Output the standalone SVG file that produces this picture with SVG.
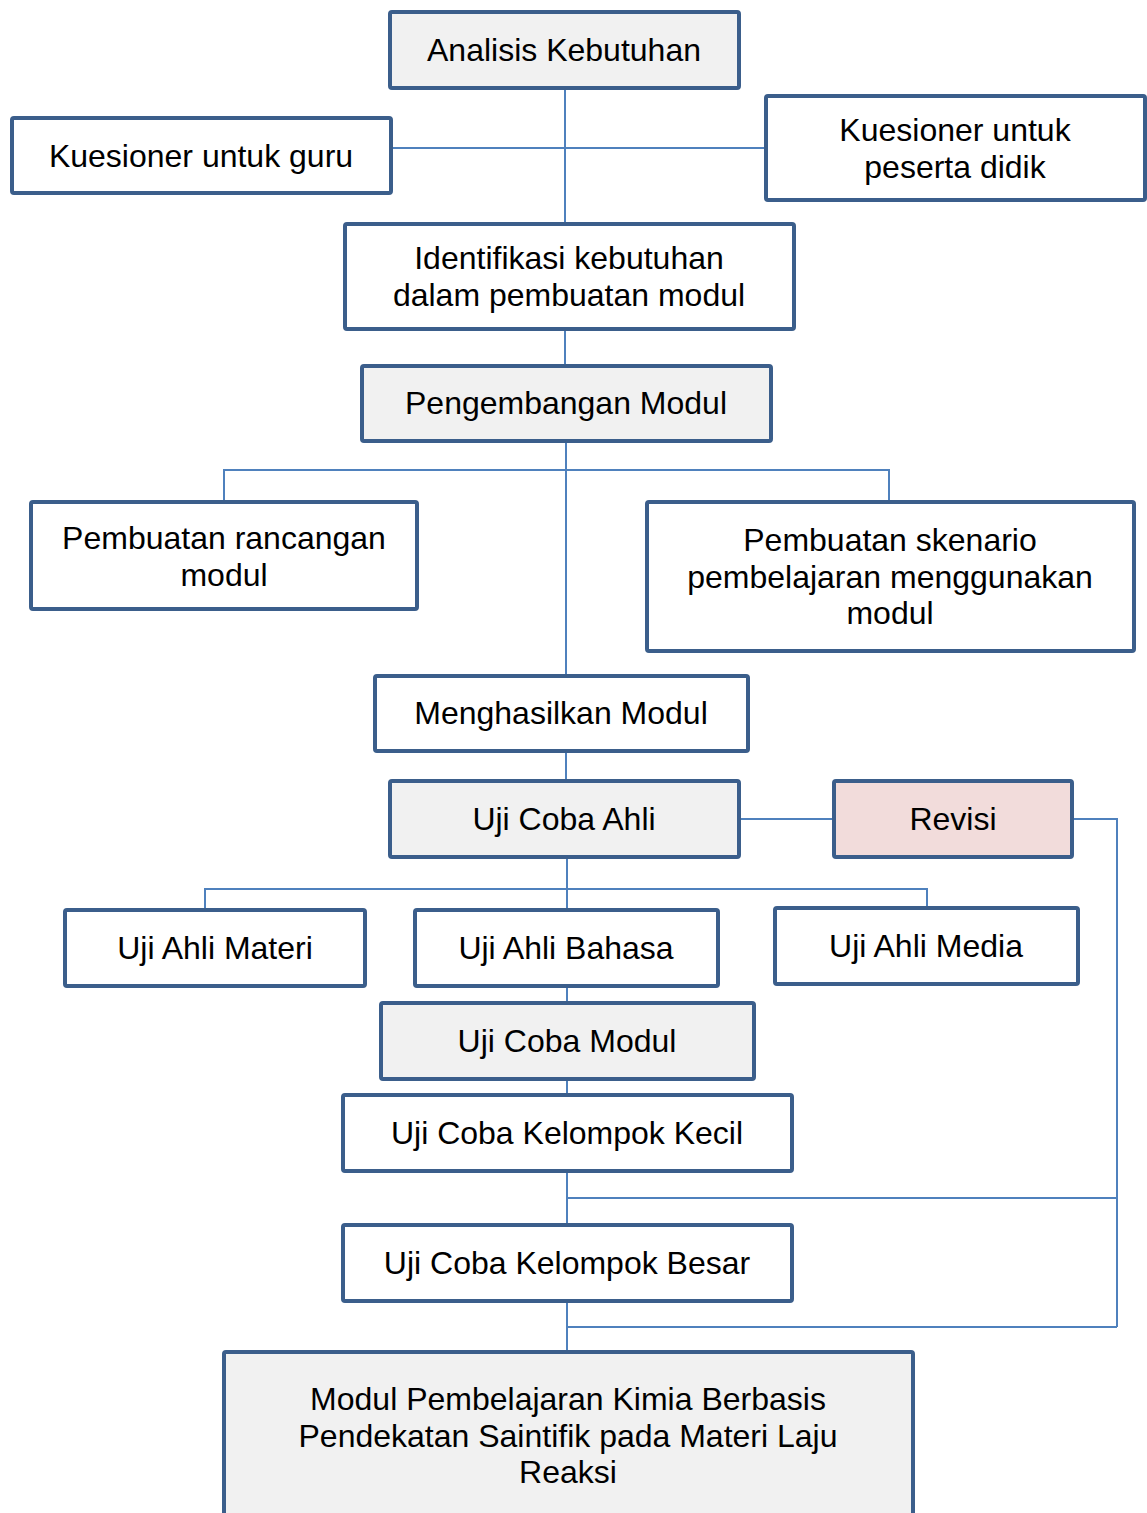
<svg xmlns="http://www.w3.org/2000/svg" width="1147" height="1513" viewBox="0 0 1147 1513">
<style>
.box{fill:#ffffff;stroke:#3b5e8b;stroke-width:4}
.gray{fill:#f1f1f1}
.pink{fill:#f2dcdb}
.t{font-family:"Liberation Sans",Arial,sans-serif;font-size:32px;fill:#000;text-anchor:middle}
.c{fill:none;stroke:#4f81bd;stroke-width:2}
</style>
<rect width="1147" height="1513" fill="#ffffff"/>
<g id="connectors">
<path class="c" d="M565 88V224M391 148H766"/>
<path class="c" d="M565 329V366"/>
<path class="c" d="M566 441V676M224 502V470H889V502"/>
<path class="c" d="M566 751V781"/>
<path class="c" d="M739 819H834M1072 819H1117V1327"/>
<path class="c" d="M567 857V1003M205 910V889H927V908"/>
<path class="c" d="M567 1079V1095"/>
<path class="c" d="M567 1171V1225M567 1198H1117"/>
<path class="c" d="M567 1301V1352M567 1327H1117"/>
</g>
<g id="n1"><rect class="box gray" x="390" y="12" width="349" height="76" rx="2"/><text class="t" x="564" y="61">Analisis Kebutuhan</text></g>
<g id="n2"><rect class="box" x="12" y="118" width="379" height="75" rx="2"/><text class="t" x="201" y="167">Kuesioner untuk guru</text></g>
<g id="n3"><rect class="box" x="766" y="96" width="379" height="104" rx="2"/><text class="t" x="955" y="141">Kuesioner untuk</text><text class="t" x="955" y="178">peserta didik</text></g>
<g id="n4"><rect class="box" x="345" y="224" width="449" height="105" rx="2"/><text class="t" x="569" y="269">Identifikasi kebutuhan</text><text class="t" x="569" y="306">dalam pembuatan modul</text></g>
<g id="n5"><rect class="box gray" x="362" y="366" width="409" height="75" rx="2"/><text class="t" x="566" y="414">Pengembangan Modul</text></g>
<g id="n6"><rect class="box" x="31" y="502" width="386" height="107" rx="2"/><text class="t" x="224" y="549">Pembuatan rancangan</text><text class="t" x="224" y="586">modul</text></g>
<g id="n7"><rect class="box" x="647" y="502" width="487" height="149" rx="2"/><text class="t" x="890" y="551">Pembuatan skenario</text><text class="t" x="890" y="588">pembelajaran menggunakan</text><text class="t" x="890" y="624">modul</text></g>
<g id="n8"><rect class="box" x="375" y="676" width="373" height="75" rx="2"/><text class="t" x="561" y="724">Menghasilkan Modul</text></g>
<g id="n9"><rect class="box gray" x="390" y="781" width="349" height="76" rx="2"/><text class="t" x="564" y="830">Uji Coba Ahli</text></g>
<g id="n10"><rect class="box pink" x="834" y="781" width="238" height="76" rx="2"/><text class="t" x="953" y="830">Revisi</text></g>
<g id="n11"><rect class="box" x="65" y="910" width="300" height="76" rx="2"/><text class="t" x="215" y="959">Uji Ahli Materi</text></g>
<g id="n12"><rect class="box" x="415" y="910" width="303" height="76" rx="2"/><text class="t" x="566" y="959">Uji Ahli Bahasa</text></g>
<g id="n13"><rect class="box" x="775" y="908" width="303" height="76" rx="2"/><text class="t" x="926" y="957">Uji Ahli Media</text></g>
<g id="n14"><rect class="box gray" x="381" y="1003" width="373" height="76" rx="2"/><text class="t" x="567" y="1052">Uji Coba Modul</text></g>
<g id="n15"><rect class="box" x="343" y="1095" width="449" height="76" rx="2"/><text class="t" x="567" y="1144">Uji Coba Kelompok Kecil</text></g>
<g id="n16"><rect class="box" x="343" y="1225" width="449" height="76" rx="2"/><text class="t" x="567" y="1274">Uji Coba Kelompok Besar</text></g>
<g id="n17"><rect class="box gray" x="224" y="1352" width="689" height="180" rx="2"/><text class="t" x="568" y="1410">Modul Pembelajaran Kimia Berbasis</text><text class="t" x="568" y="1447">Pendekatan Saintifik pada Materi Laju</text><text class="t" x="568" y="1483">Reaksi</text></g>
</svg>
